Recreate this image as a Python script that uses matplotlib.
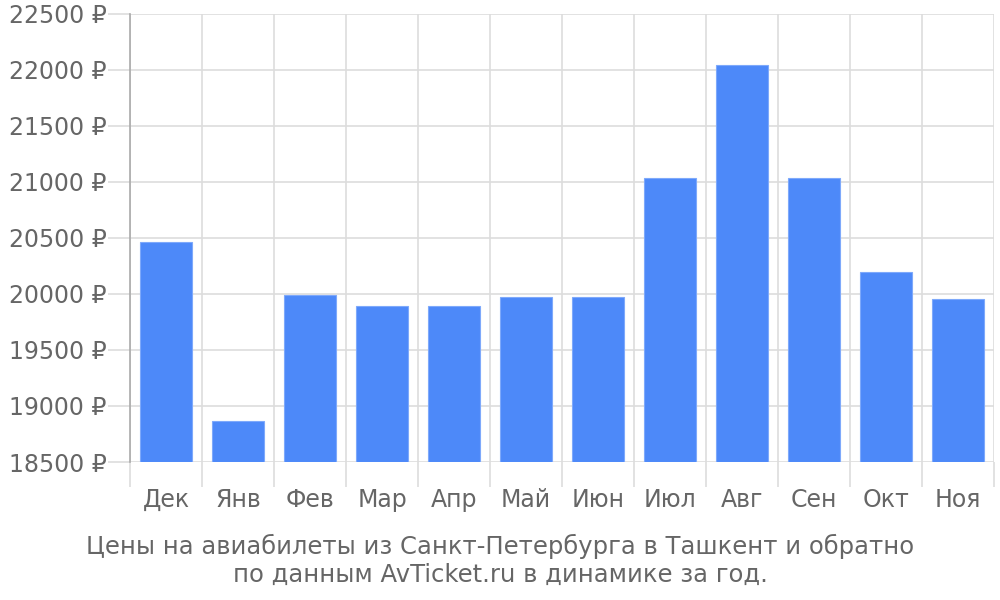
import numpy as np
import matplotlib
matplotlib.use("Agg")
import matplotlib.pyplot as plt
from matplotlib.ticker import FixedLocator, FuncFormatter

months = ["Дек", "Янв", "Фев", "Мар", "Апр", "Май", "Июн", "Июл", "Авг", "Сен", "Окт", "Ноя"]
prices = [20460, 18870, 19990, 19890, 19890, 19975, 19975, 21040, 22045, 21040, 20195, 19955]
y_ticks = [18500, 19000, 19500, 20000, 20500, 21000, 21500, 22000, 22500]
title = "Цены на авиабилеты из Санкт-Петербурга в Ташкент и обратно\nпо данным AvTicket.ru в динамике за год."

text_col = "#666666"
grid_col = "#dddddd"

fig = plt.figure(figsize=(10, 6), dpi=100)
ax = fig.add_axes([0.13, 0.23, 0.864, 0.7467])

x = np.arange(len(months))
base = y_ticks[0]
ax.bar(x, np.array(prices) - base, bottom=base, width=0.72,
       color="#4d89f9", edgecolor="#7ea9fb", linewidth=0.8, zorder=3)

ax.set_xlim(-0.5, len(months) - 0.5)
ax.set_ylim(y_ticks[0], y_ticks[-1])

ax.set_yticks(y_ticks)
ax.yaxis.set_major_formatter(FuncFormatter(lambda v, p: f"{int(v)} ₽"))
ax.set_xticks(x)
ax.set_xticklabels(months)
ax.xaxis.set_minor_locator(FixedLocator(np.arange(len(months) + 1) - 0.5))

ax.tick_params(axis="x", which="major", length=0, pad=19, labelsize=17, labelcolor=text_col)
ax.tick_params(axis="x", which="minor", length=18, width=1.2, color=grid_col)
ax.tick_params(axis="y", which="major", length=16, width=1.2, color=grid_col,
               pad=1, labelsize=17, labelcolor=text_col)

ax.grid(True, axis="y", which="major", color=grid_col, linewidth=1.2, zorder=0)
ax.grid(True, axis="x", which="minor", color=grid_col, linewidth=1.2, zorder=0)

for s in ["top", "right", "bottom"]:
    ax.spines[s].set_visible(False)
ax.spines["left"].set_color("#aaaaaa")
ax.spines["left"].set_linewidth(1.2)

fig.text(0.5, 0.022, title, ha="center", va="bottom", fontsize=17.5,
         color=text_col, linespacing=1.2)

fig.savefig("out.png", dpi=100)
